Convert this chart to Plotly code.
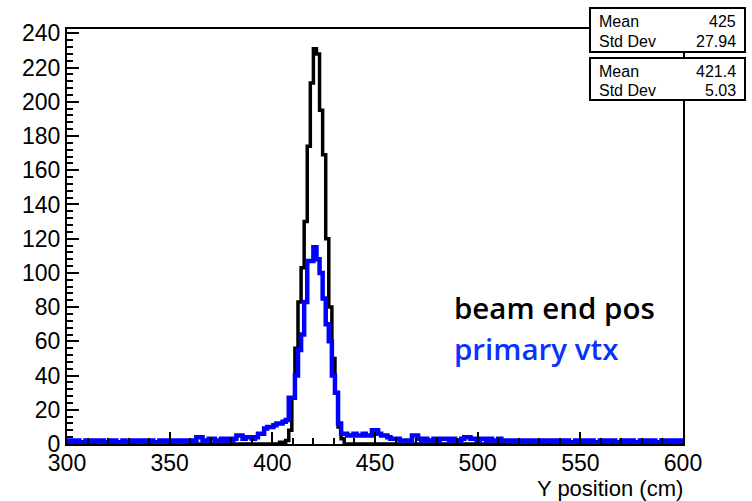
import numpy as np
import plotly.graph_objects as go

# Histogram definition: 200 bins of 1.5 cm from 300 to 600 cm
x_min, x_max, n_bins = 300.0, 600.0, 200

# beam end pos (black) — non-zero only around the peak; bins 69..89
beam_start_bin = 69
beam_vals = [1, 0, 2, 8, 27, 56, 83, 103, 130, 174, 211, 231, 228, 195, 169,
             120, 80, 50, 30, 10, 3]

# primary vtx (blue) — all 200 bins
vtx_vals = [
    2, 1, 2, 2, 1, 1, 2, 1, 2, 2, 1, 2, 1, 1, 2, 2, 1, 1, 2, 1,      # 300-330
    1, 2, 2, 1, 2, 1, 2, 2, 1, 1, 2, 1, 2, 2, 1, 2, 1, 2, 1, 2,      # 330-360
    2, 2, 4, 4, 2, 2, 3, 3, 2, 2, 3, 2, 3, 2, 3, 5, 5, 3, 4, 4,      # 360-390
    3, 4, 6, 6, 9, 10, 10, 11, 12, 12, 13, 14, 27, 27, 40, 55, 64, 83, 107, 107,  # 390-420
    115, 108, 100, 85, 70, 60, 40, 30, 12, 6, 6, 5, 5, 6, 5, 5, 6, 5, 5, 8,  # 420-450
    8, 6, 5, 5, 4, 3, 3, 3, 2, 2, 2, 2, 5, 5, 3, 2, 3, 2, 2, 3,      # 450-480
    2, 3, 3, 3, 2, 3, 2, 2, 3, 4, 4, 3, 3, 2, 3, 3, 2, 3, 2, 2,      # 480-510
    3, 2, 2, 2, 2, 1, 2, 2, 1, 2, 2, 1, 2, 2, 1, 2, 2, 2, 1, 2,      # 510-540
    2, 1, 2, 1, 1, 2, 1, 2, 2, 1, 2, 1, 1, 2, 2, 1, 2, 2, 1, 1,      # 540-570
    2, 1, 2, 2, 1, 1, 2, 2, 1, 2, 2, 1, 1, 2, 1, 2, 2, 1, 2, 2,      # 570-600
]

stats_top = [("Mean", "425"), ("Std Dev", "27.94")]
stats_bot = [("Mean", "421.4"), ("Std Dev", "5.03")]
legend_labels = ["beam end pos", "primary vtx"]
x_title = "Y position (cm)"

# ---------------------------------------------------------------
edges = np.linspace(x_min, x_max, n_bins + 1)
beam_full = np.zeros(n_bins)
beam_full[beam_start_bin:beam_start_bin + len(beam_vals)] = beam_vals
vtx_full = np.array(vtx_vals, dtype=float)


def step(vals):
    xs = list(edges)
    ys = list(vals) + [vals[-1]]
    return xs, ys


W, H = 752, 501
L, R, T, B = 67, 683, 29, 444
y_top = 1.05 * max(beam_vals)


def px(x):
    return (x - L) / (R - L)


def py(y):
    return (B - y) / (B - T)


fig = go.Figure()
bx, by = step(beam_full)
fig.add_trace(go.Scatter(x=bx, y=by, mode="lines", line=dict(shape="hv", color="black", width=3.5),
                         showlegend=False, hoverinfo="skip"))
vx, vy = step(vtx_full)
fig.add_trace(go.Scatter(x=vx, y=vy, mode="lines", line=dict(shape="hv", color="#0000ff", width=4.5),
                         showlegend=False, hoverinfo="skip"))

font_tick = dict(family="Liberation Sans, Arial, sans-serif", size=23, color="black")

fig.update_layout(
    width=W, height=H,
    margin=dict(l=L, r=W - R, t=T, b=H - B),
    paper_bgcolor="white", plot_bgcolor="white",
    xaxis=dict(range=[x_min, x_max], showgrid=False, zeroline=False,
               showline=True, mirror=True, linecolor="black", linewidth=2,
               ticks="inside", ticklen=12, tickwidth=2, tickcolor="black",
               dtick=50, tick0=300, tickfont=font_tick, ticklabelstandoff=-3,
               minor=dict(ticks="inside", ticklen=6, tickwidth=2, tickcolor="black", dtick=10)),
    yaxis=dict(range=[0, y_top], showgrid=False, zeroline=False,
               showline=True, mirror=True, linecolor="black", linewidth=2,
               ticks="inside", ticklen=12, tickwidth=2, tickcolor="black",
               dtick=20, tick0=0, tickfont=font_tick,
               minor=dict(ticks="inside", ticklen=6, tickwidth=2, tickcolor="black", dtick=4)),
)

shapes = []
annotations = []
# Stats boxes
box_font = dict(family="Liberation Sans, Arial, sans-serif", size=16, color="black")
for (top, bot, rows, ys) in [(8, 52, stats_top, [21, 42]), (58, 100, stats_bot, [71, 91])]:
    shapes.append(dict(type="rect", xref="paper", yref="paper",
                       x0=px(590), x1=px(745), y0=py(bot), y1=py(top),
                       fillcolor="white", line=dict(color="black", width=2), layer="above"))
    for (name, val), yy in zip(rows, ys):
        annotations.append(dict(xref="paper", yref="paper", x=px(597), y=py(yy), text=name,
                                xanchor="left", yanchor="middle", showarrow=False, font=box_font))
        annotations.append(dict(xref="paper", yref="paper", x=px(738), y=py(yy), text=val,
                                xanchor="right", yanchor="middle", showarrow=False, font=box_font))

leg_font = dict(family="Open Sans, sans-serif", size=29.5, weight=600)
annotations.append(dict(xref="paper", yref="paper", x=px(452), y=py(307), text=legend_labels[0],
                        xanchor="left", yanchor="middle", showarrow=False,
                        font=dict(**leg_font, color="black")))
annotations.append(dict(xref="paper", yref="paper", x=px(452), y=py(348), text=legend_labels[1],
                        xanchor="left", yanchor="middle", showarrow=False,
                        font=dict(**leg_font, color="#0a32ff")))
annotations.append(dict(xref="paper", yref="paper", x=px(685), y=py(488), text=x_title,
                        xanchor="right", yanchor="middle", showarrow=False,
                        font=dict(family="Liberation Sans, Arial, sans-serif", size=22, color="black")))

fig.update_layout(shapes=shapes, annotations=annotations)
fig.write_html("out.html")
